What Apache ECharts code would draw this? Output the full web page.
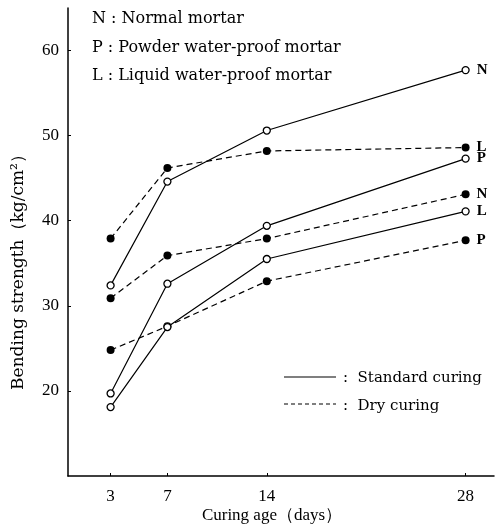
<!DOCTYPE html>
<html><head><meta charset="utf-8">
<script src="https://cdn.jsdelivr.net/npm/echarts@6/dist/echarts.min.js"></script>
<style>html,body{margin:0;padding:0;background:#fff}#c{width:503px;height:529px}</style>
</head><body><div id="c"></div>
<script>
// ---- data ----
const days = [3, 7, 14, 28];
const xTicks = [3, 7, 14, 28];
const yTicks = [20, 30, 40, 50, 60];
// Standard curing (open circles, solid lines)
const stdN = [32.4, 44.6, 50.6, 57.7];
const stdP = [19.7, 32.6, 39.4, 47.3];
const stdL = [18.1, 27.5, 35.5, 41.1];
// Dry curing (filled circles, dashed lines)
const dryL = [37.9, 46.2, 48.2, 48.6];
const dryN = [30.9, 35.9, 37.9, 43.1];
const dryP = [24.8, 27.6, 32.9, 37.7];
const materialNotes = ['N : Normal mortar', 'P : Powder water-proof mortar', 'L : Liquid water-proof mortar'];
const curingNames = [':  Standard curing', ':  Dry curing'];

const NUMFONT = '"Liberation Serif",serif';
const FONT = '"DejaVu Serif","Liberation Serif",serif';

function mk(name, vals, dry, tag) {
  const data = vals.map((v, i) => {
    const item = { value: [days[i], v] };
    if (i === vals.length - 1) {
      item.label = { show: true, position: 'right', distance: 7, formatter: tag,
        fontFamily: NUMFONT, fontSize: 15, fontWeight: 'bold', color: '#000' };
    }
    return item;
  });
  return {
    name: name, type: 'line', data: data, z: dry ? 3 : 4,
    symbol: 'circle', symbolSize: dry ? 8 : 7,
    itemStyle: dry ? { color: '#000', borderWidth: 0 } : { color: '#fff', borderColor: '#000', borderWidth: 1.3 },
    lineStyle: { color: '#000', width: 1.2, type: dry ? [6, 4] : 'solid' },
    emphasis: { disabled: true }, animation: false
  };
}

const chart = echarts.init(document.getElementById('c'));
chart.setOption({
  backgroundColor: '#fff',
  animation: false,
  grid: { left: 68, right: 9, top: 8, bottom: 53, containLabel: false, outerBoundsMode: 'none' },
  xAxis: {
    type: 'value', min: 0, max: 30,
    name: 'Curing age（days）', nameLocation: 'middle', nameGap: 31, nameMoveOverlap: false,
    nameTextStyle: { fontFamily: NUMFONT, fontSize: 17, color: '#000', padding: [0, 18, 0, 0] },
    axisLine: { show: true, lineStyle: { color: '#000', width: 1.5 } },
    axisTick: { show: true, inside: true, length: 3, customValues: xTicks, lineStyle: { color: '#000' } },
    axisLabel: { customValues: xTicks, fontFamily: NUMFONT, fontSize: 17, color: '#000', margin: 12 },
    splitLine: { show: false }
  },
  yAxis: {
    type: 'value', min: 10, max: 65,
    name: 'Bending strength（kg/cm²）', nameLocation: 'middle', nameGap: 41, nameRotate: 90, nameMoveOverlap: false,
    nameTextStyle: { fontFamily: FONT, fontSize: 17, color: '#000', padding: [0, 52, 0, 0] },
    axisLine: { show: true, lineStyle: { color: '#000', width: 1.5 } },
    axisTick: { show: true, inside: true, length: 3, customValues: yTicks, lineStyle: { color: '#000' } },
    axisLabel: { customValues: yTicks, fontFamily: NUMFONT, fontSize: 17, color: '#000', margin: 9 },
    splitLine: { show: false }
  },
  graphic: [
    ...materialNotes.map((t, i) => ({
      type: 'text', left: 92, top: 11 + i * 28.5,
      style: { text: t, font: '16px ' + FONT, fill: '#000' }
    })),
    { type: 'line', shape: { x1: 284, y1: 377, x2: 336, y2: 377 }, style: { stroke: '#000', lineWidth: 1.2 } },
    { type: 'line', shape: { x1: 284, y1: 404, x2: 336, y2: 404 }, style: { stroke: '#000', lineWidth: 1.2, lineDash: [4, 3] } },
    ...curingNames.map((t, i) => ({
      type: 'text', left: 343, top: 371 + i * 28,
      style: { text: t, font: '15px ' + FONT, fill: '#000' }
    }))
  ],
  series: [
    mk('Standard N', stdN, false, 'N'),
    mk('Standard P', stdP, false, 'P'),
    mk('Standard L', stdL, false, 'L'),
    mk('Dry L', dryL, true, 'L'),
    mk('Dry N', dryN, true, 'N'),
    mk('Dry P', dryP, true, 'P')
  ]
});
</script></body></html>
